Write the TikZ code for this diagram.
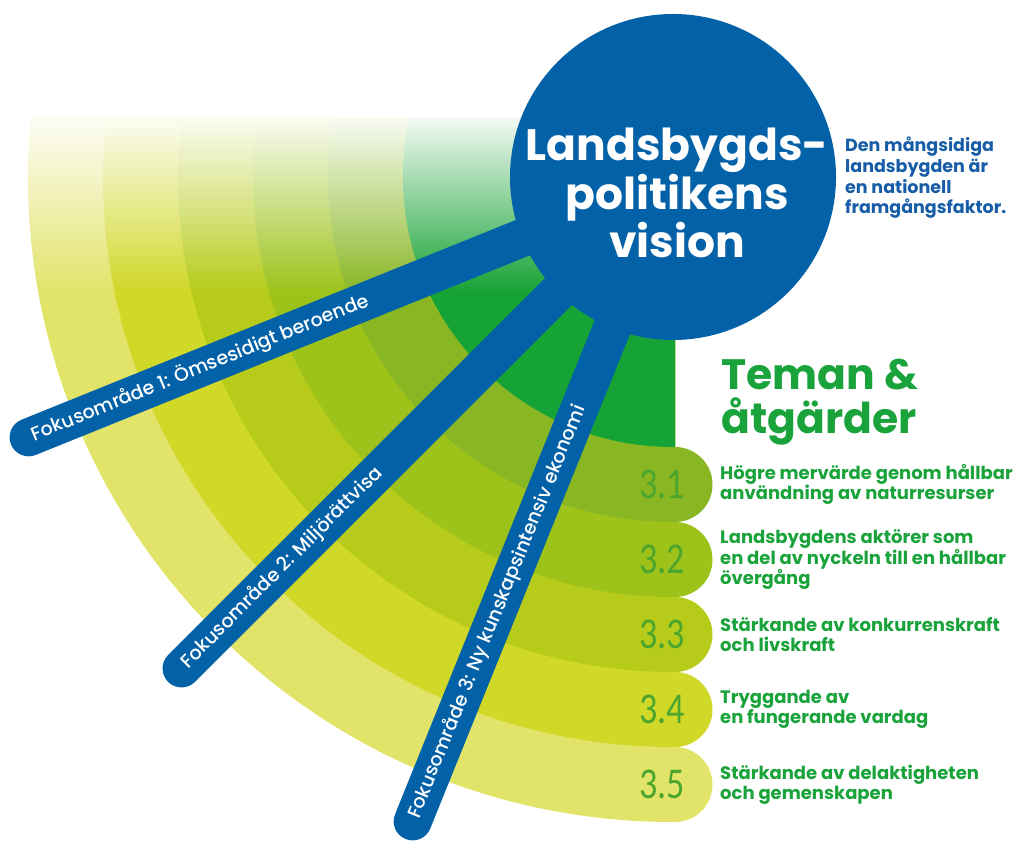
\documentclass[tikz,border=0pt]{standalone}
\usepackage{fontspec}
\setmainfont{Poppins}
\newfontfamily\fokusfont{Poppins Medium}
\newfontfamily\numfont{Carlito}
\usetikzlibrary{calc,fadings,positioning}

\definecolor{visionblue}{RGB}{3,97,168}
\definecolor{descblue}{RGB}{22,92,166}
\definecolor{ringgreen}{RGB}{22,163,53}
\definecolor{ringA}{RGB}{137,183,36}
\definecolor{ringB}{RGB}{157,195,26}
\definecolor{ringC}{RGB}{183,204,26}
\definecolor{ringD}{RGB}{208,216,40}
\definecolor{ringE}{RGB}{226,228,106}
\definecolor{numgreen}{RGB}{76,165,45}
\definecolor{textgreen}{RGB}{25,163,58}

\tikzfading[name=fadedown, top color=transparent!0, bottom color=transparent!100]

\begin{document}
\begin{tikzpicture}[x=1pt, y=1pt,
  bar/.style={draw=visionblue, line width=38pt, line cap=round},
  fokus/.style={text=white, font=\fokusfont\fontsize{19}{19}\selectfont, inner sep=0pt, anchor=west},
  num/.style={text=numgreen, font=\numfont\fontsize{44}{44}\selectfont, inner sep=0pt, anchor=east, xscale=0.82},
  item/.style={text=textgreen, font=\bfseries\fontsize{18}{20}\selectfont, align=left, inner sep=0pt}]

  \useasboundingbox (0,0) rectangle (1019,840);

  % Rings
  \coordinate (C) at (673,663);
  \begin{scope}
    \clip (0,0) rectangle (675,722);
    \fill[ringE] (C) circle (645);
    \fill[ringD] (C) circle (570);
    \fill[ringC] (C) circle (495);
    \fill[ringB] (C) circle (420);
    \fill[ringA] (C) circle (345);
    \fill[ringgreen] (C) circle (270);
  \end{scope}

  % Round ends of the rings
  \fill[ringA] (675,393) arc (90:-90:37.5) -- cycle;
  \fill[ringB] (675,318) arc (90:-90:37.5) -- cycle;
  \fill[ringC] (675,243) arc (90:-90:37.5) -- cycle;
  \fill[ringD] (675,168) arc (90:-90:37.5) -- cycle;
  \fill[ringE] (675,93) arc (90:-90:37.5) -- cycle;

  % Fade at the top
  \fill[white, path fading=fadedown] (0,732) rectangle (676,548);

  % Bars
  \coordinate (F1) at ($(C)+(202:695)$);
  \coordinate (F2) at ($(C)+(225:695)$);
  \coordinate (F3) at ($(C)+(248:695)$);
  \draw[bar] (C) -- (F1);
  \draw[bar] (C) -- (F2);
  \draw[bar] (C) -- (F3);

  % Vision
  \node[circle, fill=visionblue, minimum size=326pt, inner sep=0pt] (vision) at (C) {};
  \node[text=white, align=center, font=\bfseries\fontsize{44}{46.5}\selectfont] (title) at ($(vision.center)+(4,-16)$) {Landsbygds-\\politikens\\vision};
  \node[text=descblue, align=left, anchor=north west, inner sep=0pt, font=\bfseries\fontsize{17.5}{20.6}\selectfont] (desc) at (845,703) {Den mångsidiga\\landsbygden är\\en nationell\\framgångsfaktor.};

  % Labels on the bars
  \node[fokus, rotate=22] (T1) at ($(C)+(202:691)$) {Fokusområde 1: Ömsesidigt beroende};
  \node[fokus, rotate=45] (T2) at ($(C)+(225:691)$) {Fokusområde 2: Miljörättvisa};
  \node[fokus, rotate=68] (T3) at ($(C)+(248:691)$) {Fokusområde 3: Ny kunskapsintensiv ekonomi};

  % Themes
  \node[text=textgreen, align=left, anchor=north west, inner sep=0pt, font=\bfseries\fontsize{42.5}{44}\selectfont] (teman) at (721,481) {Teman \&\\åtgärder};

  \node[num] (n31) at (685,355.5) {3.1};
  \node[num] (n32) at (685,280.5) {3.2};
  \node[num] (n33) at (685,205.5) {3.3};
  \node[num] (n34) at (685,130.5) {3.4};
  \node[num] (n35) at (685,55.5) {3.5};

  \node[item, right=35pt of n31] (i31) {Högre mervärde genom hållbar\\användning av naturresurser};
  \node[item, right=35pt of n32] (i32) {Landsbygdens aktörer som\\en del av nyckeln till en hållbar\\övergång};
  \node[item, right=35pt of n33] (i33) {Stärkande av konkurrenskraft\\och livskraft};
  \node[item, right=35pt of n34] (i34) {Tryggande av\\en fungerande vardag};
  \node[item, right=35pt of n35] (i35) {Stärkande av delaktigheten\\och gemenskapen};

\end{tikzpicture}
\end{document}
